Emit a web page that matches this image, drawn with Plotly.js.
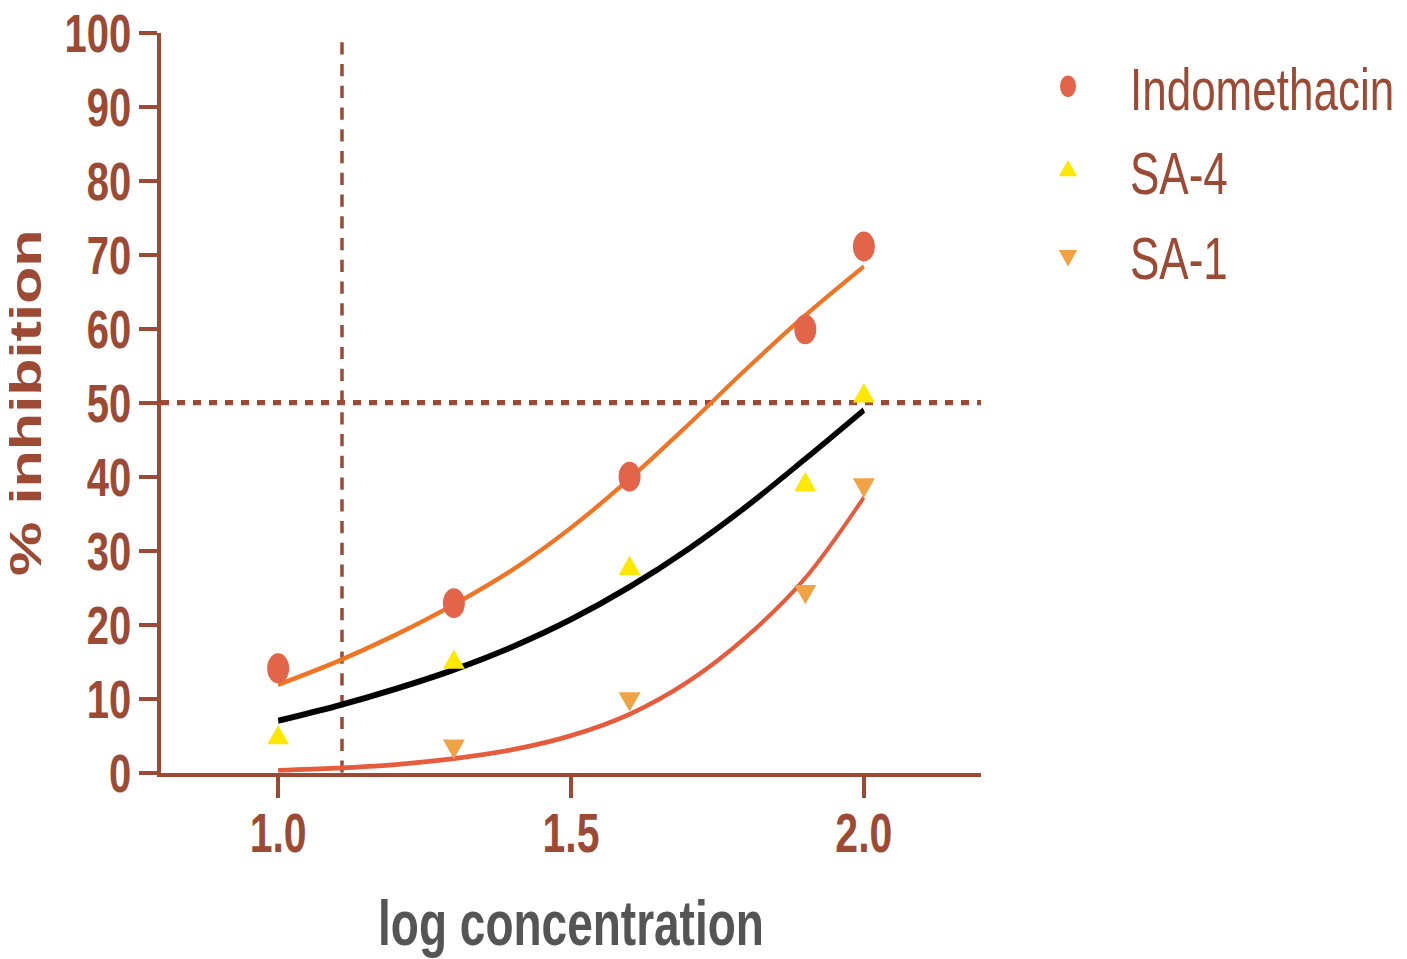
<!DOCTYPE html>
<html>
<head>
<meta charset="utf-8">
<script src="https://cdn.plot.ly/plotly-3.0.1.min.js"></script>
<style>
html,body{margin:0;padding:0;background:#fff;}
#wrap{position:relative;width:1407px;height:959px;}
#chart{position:absolute;left:0;top:0;width:1407px;height:705px;transform:scaleY(1.3603);transform-origin:0 0;}
</style>
</head>
<body>
<div id="wrap"><div id="chart"></div></div>
<script>
// ---- data ----
var doseX = [1.0, 1.3, 1.6, 1.9, 2.0];
var indomethacin = [14.1, 22.9, 40.0, 59.9, 71.1];
var sa4 = [4.7, 14.9, 27.6, 38.9, 50.9];
var sa1X = [1.3, 1.6, 1.9, 2.0];
var sa1 = [3.6, 10.0, 24.5, 38.9];

// fitted curves
var fitX = [1.0, 1.1, 1.2, 1.3, 1.4, 1.5, 1.6, 1.7, 1.8, 1.9, 2.0];
var fitIndomethacin = [11.9, 15.0, 18.6, 22.7, 27.4, 33.1, 39.7, 47.0, 54.6, 61.8, 68.4];
var fitSA4 = [7.0, 9.0, 11.3, 13.9, 17.0, 20.7, 25.1, 30.2, 36.0, 42.4, 49.0];
var fitSA1 = [0.3, 0.6, 1.1, 1.9, 3.1, 5.0, 7.9, 12.3, 18.4, 26.3, 37.2];

var seriesNames = ['Indomethacin', 'SA-4', 'SA-1'];
var xTicks = [1.0, 1.5, 2.0];
var xTickText = ['1.0', '1.5', '2.0'];
var yTicks = [0, 10, 20, 30, 40, 50, 60, 70, 80, 90, 100];
var refX = 1.109;   // vertical reference (log IC50)
var refY = 50;      // 50 % inhibition line

var brown = '#9c4a33';
var sans = '"Liberation Sans", Arial, sans-serif';

var traces = [
  {x: fitX, y: fitIndomethacin, mode: 'lines', line: {color: '#ef7424', width: 3.5, shape: 'spline'}, showlegend: false, hoverinfo: 'skip'},
  {x: fitX, y: fitSA4, mode: 'lines', line: {color: '#000000', width: 4.5, shape: 'spline'}, showlegend: false, hoverinfo: 'skip'},
  {x: fitX, y: fitSA1, mode: 'lines', line: {color: '#e55b3c', width: 3.5, shape: 'spline'}, showlegend: false, hoverinfo: 'skip'},
  {x: doseX, y: indomethacin, name: seriesNames[0], mode: 'markers', legendgroup: 'a',
   marker: {symbol: 'circle', size: 22, color: '#e2654a'}},
  {x: doseX, y: sa4, name: seriesNames[1], mode: 'markers', legendgroup: 'b',
   marker: {symbol: 'triangle-up', size: 19, color: '#ffe800'}},
  {x: sa1X, y: sa1, name: seriesNames[2], mode: 'markers', legendgroup: 'c',
   marker: {symbol: 'triangle-down', size: 19, color: '#f0a244'}}
];

var layout = {
  width: 1407, height: 705,
  paper_bgcolor: '#ffffff', plot_bgcolor: '#ffffff',
  margin: {l: 161, r: 426, t: 24, b: 137, autoexpand: false},
  showlegend: true,
  legend: {
    x: 1.0305, xanchor: 'left', y: 0.992, yanchor: 'top',
    font: {family: sans, size: 44, color: brown},
    traceorder: 'grouped', tracegroupgap: 2,
    itemwidth: 114, bgcolor: 'rgba(0,0,0,0)'
  },
  xaxis: {
    range: [0.8, 2.2], showgrid: false, zeroline: false,
    showline: true, linecolor: brown, linewidth: 3,
    ticks: 'outside', ticklen: 16, tickwidth: 3.5, tickcolor: brown,
    tickvals: xTicks, ticktext: xTickText, ticklabelstandoff: -10,
    tickfont: {family: sans, size: 41, color: brown, weight: 'bold'},
    title: {text: '<b>log concentration</b>', font: {family: sans, size: 46, color: '#555555'}, standoff: 38}
  },
  yaxis: {
    range: [0, 100], showgrid: false, zeroline: false,
    showline: true, linecolor: brown, linewidth: 3.5,
    ticks: 'outside', ticklen: 18, tickwidth: 3, tickcolor: brown,
    tickvals: yTicks,
    tickfont: {family: sans, size: 40, color: brown, weight: 'bold'},
    title: {text: '<b>% inhibition</b>', font: {family: sans, size: 45, color: brown}, standoff: 20}
  },
  shapes: [
    {type: 'line', xref: 'x', yref: 'y', x0: refX, x1: refX, y0: 0, y1: 100,
     line: {color: brown, width: 3.5, dash: '9px,7px'}, layer: 'below'},
    {type: 'line', xref: 'x', yref: 'y', x0: 0.8, x1: 2.2, y0: refY, y1: refY,
     line: {color: brown, width: 4, dash: '8px,8px'}, layer: 'below'}
  ]
};

Plotly.newPlot('chart', traces, layout, {displayModeBar: false, responsive: false});
</script>
</body>
</html>
